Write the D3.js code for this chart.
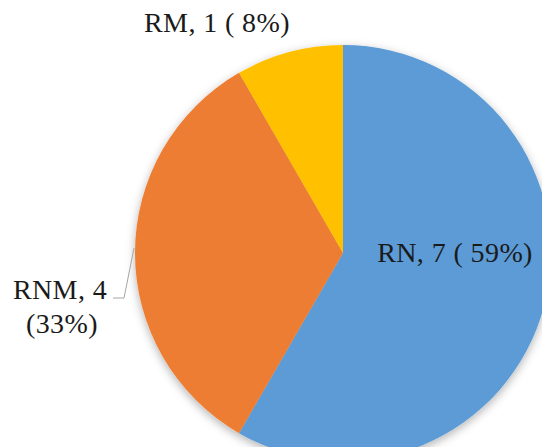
<!DOCTYPE html>
<html>
<head>
<meta charset="utf-8">
<script src="https://cdn.jsdelivr.net/npm/d3@7"></script>
<style>
  html, body { margin: 0; padding: 0; background: #fff; }
  svg { display: block; }
  text { font-family: "Liberation Serif", "Times New Roman", serif; fill: #1a1a1a; }
</style>
</head>
<body>
<svg id="chart" width="542" height="447"></svg>
<script>
// Slice data, in drawing order (clockwise from 12 o'clock)
const categories = ["RN", "RNM", "RM"];
const counts = [7, 4, 1];
const percentLabels = ["59%", "33%", "8%"];
const colors = ["#5B9BD5", "#ED7D31", "#FFC000"];

const W = 542, H = 447;
const cx = 343, cy = 253, radius = 208;

const svg = d3.select("#chart");

const defs = svg.append("defs");
const shadow = defs.append("filter").attr("id", "pieShadow")
  .attr("x", "-20%").attr("y", "-20%").attr("width", "140%").attr("height", "140%");
shadow.append("feDropShadow")
  .attr("dx", 0).attr("dy", 3).attr("stdDeviation", 5)
  .attr("flood-color", "#000").attr("flood-opacity", 0.3);

const pie = d3.pie().sort(null).value(d => d.count);
const data = categories.map((c, i) => ({ cat: c, count: counts[i], pct: percentLabels[i], color: colors[i] }));
const arcs = pie(data);
const arc = d3.arc().innerRadius(0).outerRadius(radius);

const g = svg.append("g").attr("transform", `translate(${cx},${cy})`);
g.append("g").attr("filter", "url(#pieShadow)")
  .selectAll("path").data(arcs).join("path")
  .attr("d", arc)
  .attr("fill", d => d.data.color);

// Data labels
const fs = 28;
const labelText = d => `${d.cat}, ${d.count} ( ${d.pct})`;

// RN — inside the blue slice
svg.append("text")
  .attr("x", 455).attr("y", 262)
  .attr("text-anchor", "middle")
  .attr("font-size", fs)
  .attr("letter-spacing", 0.4)
  .text(labelText(data[0]));

// RM — above the pie
svg.append("text")
  .attr("x", 217).attr("y", 32)
  .attr("text-anchor", "middle")
  .attr("font-size", fs)
  .attr("letter-spacing", 0.4)
  .text(labelText(data[2]));

// RNM — outside left, two lines with a leader line
const rnm = svg.append("text")
  .attr("text-anchor", "middle")
  .attr("font-size", fs)
  .attr("letter-spacing", 0.4);
rnm.append("tspan").attr("x", 60).attr("y", 299).text(`${data[1].cat}, ${data[1].count}`);
rnm.append("tspan").attr("x", 62).attr("y", 333).text(`(${data[1].pct})`);

// leader line from the label to the slice edge
svg.append("polyline")
  .attr("points", [[113, 298], [124, 298], [134, 248]].map(p => p.join(",")).join(" "))
  .attr("fill", "none")
  .attr("stroke", "#a6a6a6")
  .attr("stroke-width", 1);
</script>
</body>
</html>
